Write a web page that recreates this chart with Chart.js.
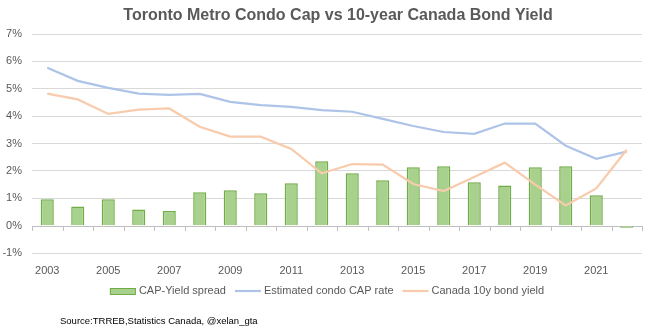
<!DOCTYPE html>
<html><head><meta charset="utf-8">
<script src="https://cdn.jsdelivr.net/npm/chart.js@4"></script>
<style>html,body{margin:0;padding:0;background:#fff}</style>
</head><body>
<canvas id="c" width="659" height="333" style="display:block;width:659px;height:333px"></canvas>
<script>
const years = ['2003','2004','2005','2006','2007','2008','2009','2010','2011','2012','2013','2014','2015','2016','2017','2018','2019','2020','2021','2022'];
const spread = [0.96,0.70,0.96,0.59,0.53,1.22,1.29,1.18,1.55,2.35,1.91,1.66,2.13,2.17,1.58,1.47,2.13,2.17,1.11,-0.08];
const capRate = [5.77,5.29,5.03,4.82,4.78,4.81,4.52,4.40,4.34,4.22,4.16,3.90,3.64,3.42,3.35,3.73,3.73,2.92,2.44,2.70];
const bondYield = [4.82,4.61,4.08,4.24,4.28,3.61,3.25,3.25,2.80,1.91,2.25,2.23,1.52,1.26,1.78,2.30,1.50,0.74,1.36,2.77];
const yMin = -1, yMax = 7, yStep = 1;
const titleText = 'Toronto Metro Condo Cap vs 10-year Canada Bond Yield';
const sourceText = 'Source:TRREB,Statistics Canada, @xelan_gta';

const FONT = '"Liberation Sans", Arial, sans-serif';
const TXT = '#595959';

const extras = {
  id: 'extras',
  beforeDatasetsDraw(chart) {
    const ctx = chart.ctx, ca = chart.chartArea, y = chart.scales.y;
    const y0 = y.getPixelForValue(0);
    const n = chart.data.labels.length;
    ctx.save();
    ctx.strokeStyle = '#bfbfbf';
    ctx.lineWidth = 1;
    ctx.beginPath();
    ctx.moveTo(ca.left, Math.round(y0) + 0.5);
    ctx.lineTo(ca.right, Math.round(y0) + 0.5);
    for (let i = 0; i <= n; i++) {
      const x = Math.round(ca.left + i * (ca.right - ca.left) / n) + 0.5;
      ctx.moveTo(x, Math.round(y0));
      ctx.lineTo(x, Math.round(y0) + 5);
    }
    ctx.stroke();
    ctx.restore();
  },
  afterDraw(chart) {
    const ctx = chart.ctx;
    ctx.save();
    ctx.fillStyle = TXT;
    ctx.font = 'bold 16px ' + FONT;
    ctx.textAlign = 'center';
    ctx.textBaseline = 'alphabetic';
    ctx.fillText(titleText, 338, 20);
    ctx.font = '11px ' + FONT;
    ctx.textAlign = 'left';
    ctx.textBaseline = 'middle';
    const ds = chart.data.datasets;
    const symW = 26, gap = 3, spacing = 9;
    let total = 0;
    const widths = ds.map(d => ctx.measureText(d.label).width);
    widths.forEach((w, i) => { total += symW + gap + w + (i < ds.length - 1 ? spacing : 0); });
    let x = 327 - total / 2;
    const ly = 291;
    ds.forEach((d, i) => {
      if (d.type === 'line') {
        ctx.strokeStyle = d.borderColor;
        ctx.lineWidth = d.borderWidth;
        ctx.beginPath();
        ctx.moveTo(x, ly); ctx.lineTo(x + symW, ly);
        ctx.stroke();
      } else {
        ctx.fillStyle = d.backgroundColor;
        ctx.fillRect(x, ly - 3, symW, 6);
        ctx.strokeStyle = d.borderColor;
        ctx.lineWidth = 1;
        ctx.strokeRect(x + 0.5, ly - 3 + 0.5, symW - 1, 6);
      }
      ctx.fillStyle = TXT;
      ctx.fillText(d.label, x + symW + gap, ly);
      x += symW + gap + widths[i] + spacing;
    });
    ctx.fillStyle = '#000';
    ctx.font = '9.5px ' + FONT;
    ctx.textAlign = 'left';
    ctx.fillText(sourceText, 60, 321);
    ctx.restore();
  }
};

new Chart(document.getElementById('c'), {
  type: 'bar',
  data: {
    labels: years,
    datasets: [
      { type: 'bar', label: 'CAP-Yield spread', data: spread, backgroundColor: '#a9d18e', borderColor: '#70ad47', borderWidth: 1.5, barPercentage: 0.43, categoryPercentage: 1, order: 3 },
      { type: 'line', label: 'Estimated condo CAP rate', data: capRate, borderColor: '#adc4e8', backgroundColor: '#adc4e8', borderWidth: 2.25, pointRadius: 0, tension: 0, order: 2 },
      { type: 'line', label: 'Canada 10y bond yield', data: bondYield, borderColor: '#f8cbad', backgroundColor: '#f8cbad', borderWidth: 2.25, pointRadius: 0, tension: 0, order: 1 }
    ]
  },
  options: {
    responsive: false,
    animation: false,
    devicePixelRatio: 1,
    layout: { padding: { top: 34, right: 17, left: 0, bottom: 0 } },
    plugins: { legend: { display: false }, title: { display: false }, tooltip: { enabled: false } },
    scales: {
      x: {
        grid: { display: false, drawTicks: false },
        border: { display: false },
        afterFit(s) { s.height = 80; },
        ticks: {
          autoSkip: false, maxRotation: 0, padding: 11, color: TXT,
          font: { family: FONT, size: 11 },
          callback(v, i) { return i % 2 === 0 ? this.getLabelForValue(v) : ''; }
        }
      },
      y: {
        min: yMin, max: yMax,
        afterFit(s) { s.width = 32; },
        border: { display: false },
        grid: { color: ctx => ctx.tick && ctx.tick.value === 0 ? 'rgba(0,0,0,0)' : '#d9d9d9', drawTicks: false, lineWidth: 1 },
        ticks: { stepSize: yStep, padding: 10, color: TXT, font: { family: FONT, size: 11 }, callback: v => v + '%' }
      }
    }
  },
  plugins: [extras]
});
</script>
</body></html>
